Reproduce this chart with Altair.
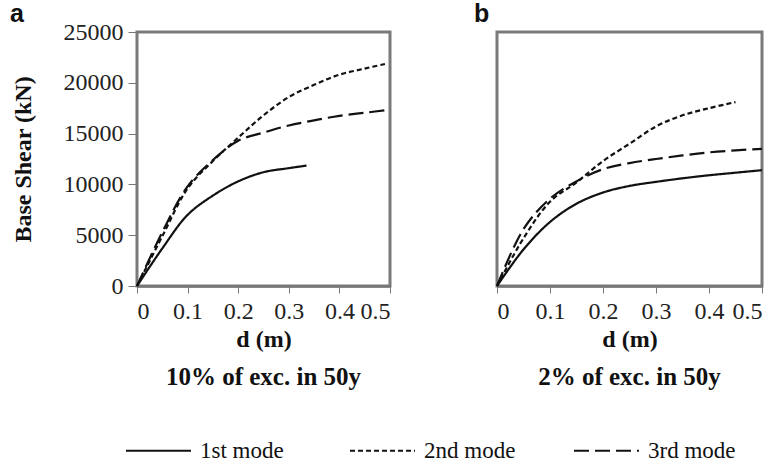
import altair as alt
import pandas as pd

modes = ["1st mode", "2nd mode", "3rd mode"]

# Panel a: 10% of exc. in 50y
a1_d = [0, 0.05, 0.10, 0.15, 0.20, 0.25, 0.30, 0.335]
a1_v = [0, 3700, 7000, 8900, 10300, 11200, 11600, 11850]
a2_d = [0, 0.05, 0.10, 0.15, 0.20, 0.25, 0.30, 0.35, 0.40, 0.45, 0.49]
a2_v = [0, 4900, 9600, 12300, 14600, 16800, 18600, 19800, 20800, 21400, 21850]
a3_d = [0, 0.05, 0.10, 0.15, 0.20, 0.25, 0.30, 0.35, 0.40, 0.45, 0.50]
a3_v = [0, 5300, 9800, 12400, 14300, 15100, 15800, 16300, 16750, 17050, 17350]

# Panel b: 2% of exc. in 50y
b1_d = [0, 0.05, 0.10, 0.15, 0.20, 0.25, 0.30, 0.35, 0.40, 0.45, 0.50]
b1_v = [0, 3600, 6300, 8100, 9200, 9850, 10250, 10600, 10900, 11150, 11400]
b2_d = [0, 0.05, 0.10, 0.15, 0.20, 0.25, 0.30, 0.35, 0.40, 0.45]
b2_v = [0, 4700, 8300, 10200, 12300, 14000, 15700, 16800, 17500, 18100]
b3_d = [0, 0.05, 0.10, 0.15, 0.20, 0.25, 0.30, 0.35, 0.40, 0.45, 0.50]
b3_v = [0, 5600, 8600, 10300, 11500, 12100, 12500, 12850, 13150, 13350, 13500]

x_ticks = [0, 0.1, 0.2, 0.3, 0.4, 0.5]
y_ticks = [0, 5000, 10000, 15000, 20000, 25000]

def frame(ds, vs, mode, panel):
    return pd.DataFrame({"d": ds, "V": vs, "mode": mode, "panel": panel})

df = pd.concat([
    frame(a1_d, a1_v, modes[0], "a"), frame(a2_d, a2_v, modes[1], "a"), frame(a3_d, a3_v, modes[2], "a"),
    frame(b1_d, b1_v, modes[0], "b"), frame(b2_d, b2_v, modes[1], "b"), frame(b3_d, b3_v, modes[2], "b"),
], ignore_index=True)

SERIF = "Liberation Serif"
dash = alt.Scale(domain=modes, range=[[1, 0], [5, 3], [15, 6]])

legend = alt.Legend(
    title=None, orient="none", direction="horizontal", legendX=-12, legendY=385,
    symbolType="stroke", symbolSize=4225, symbolStrokeWidth=2, symbolStrokeColor="#111",
    labelFont=SERIF, labelFontSize=23, labelColor="#111", gridAlign="all",
    columnPadding=54, labelOffset=8,
)

def panel(name, sub, width, show_y, letter_dx):
    base = alt.Chart(df).transform_filter(alt.datum.panel == name)
    yaxis = alt.Axis(values=y_ticks, format="d", grid=False, title="Base Shear (kN)",
                     titleFont=SERIF, titleFontSize=24, titleFontWeight="bold", titleColor="#111",
                     labelFont=SERIF, labelFontSize=24, labelColor="#222", labelPadding=5,
                     tickColor="#777", tickSize=9, domain=False, titlePadding=28) if show_y else None
    lines = base.mark_line(interpolate="catmull-rom", strokeWidth=2.2, color="#111").encode(
        x=alt.X("d:Q", scale=alt.Scale(domain=[0, 0.5], nice=False),
                axis=alt.Axis(values=x_ticks, format=".1~f", grid=False, title="d (m)",
                              titleFont=SERIF, titleFontSize=24, titleFontWeight="bold",
                              titleColor="#111", labelFont=SERIF, labelFontSize=24,
                              labelColor="#222", tickColor="#777", tickSize=7,
                              domainColor="#777", domainWidth=2.5, labelPadding=6, titlePadding=4)),
        y=alt.Y("V:Q", scale=alt.Scale(domain=[0, 25000], nice=False), axis=yaxis),
        strokeDash=alt.StrokeDash("mode:N", scale=dash, legend=legend),
        order="d:Q",
    )
    letter = alt.Chart(pd.DataFrame({"t": [name]})).mark_text(
        font="Liberation Sans", fontSize=25, fontWeight="bold", color="#111",
        align="left", baseline="alphabetic").encode(
        text="t:N", x=alt.value(letter_dx), y=alt.value(-10))
    return alt.layer(lines, letter).properties(
        width=width, height=254,
        title=alt.TitleParams(sub, orient="bottom", font=SERIF, fontSize=25,
                              fontWeight="bold", color="#111", offset=14),
    )

pa = panel("a", "10% of exc. in 50y", 253, True, -127)
pb = panel("b", "2% of exc. in 50y", 265, False, -23)

chart = alt.hconcat(pa, pb, spacing=107, bounds="flush").properties(
    padding={"left": 8, "top": 0, "right": 5, "bottom": 5}
).configure(background="white").configure_view(stroke="#7a7a7a", strokeWidth=3)

chart.save("out.html", embed_options={"renderer": "svg", "actions": False})
